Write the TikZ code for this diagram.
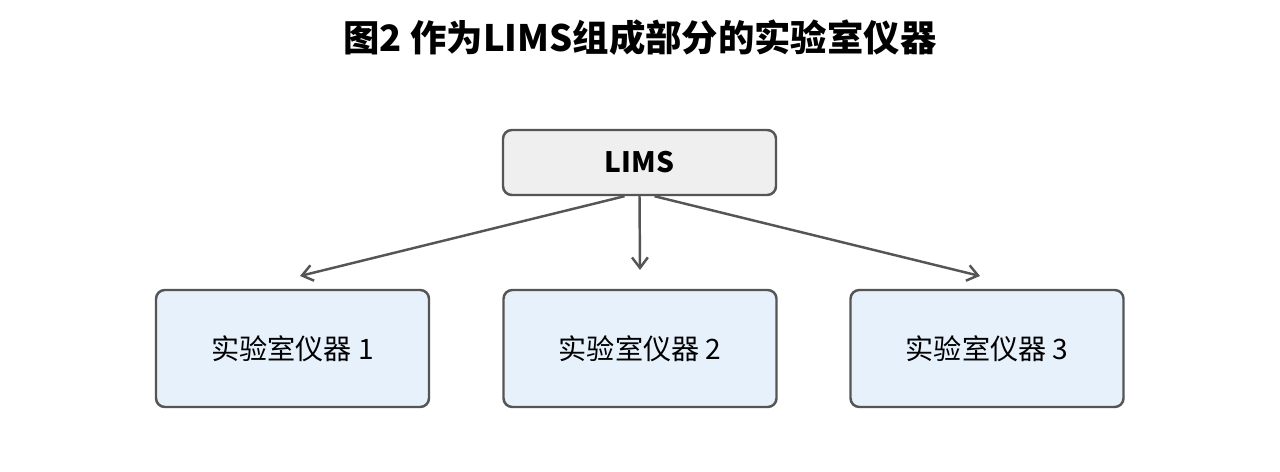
\documentclass[tikz,border=0pt]{standalone}
\usepackage{fontspec}
\setmainfont{Noto Sans CJK SC}
\usetikzlibrary{arrows.meta}
\definecolor{edge}{HTML}{555555}
\definecolor{topfill}{HTML}{EFEFEF}
\definecolor{boxfill}{HTML}{E6F1FC}
\begin{document}
\begin{tikzpicture}[x=0.02cm,y=-0.02cm,
  box/.style={draw=edge,line width=1.4pt,rounded corners=5pt,minimum width=273*0.02cm,inner sep=0pt},
  arr/.style={draw=edge,line width=1.4pt,-{Straight Barb[length=6pt,width=9pt]}}]
\useasboundingbox[fill=white] (0,0) rectangle (1280,472);
\node (title) at (640,38) {\fontsize{20.7pt}{23pt}\selectfont\bfseries 图2 作为LIMS组成部分的实验室仪器};
\node[box,fill=topfill,minimum height=65*0.02cm] (lims) at (639.5,162.5) {\fontsize{16pt}{18pt}\selectfont\bfseries LIMS};
\node[box,fill=boxfill,minimum height=117*0.02cm] (i1) at (292.5,348.5) {\fontsize{16pt}{18pt}\selectfont 实验室仪器 1};
\node[box,fill=boxfill,minimum height=117*0.02cm] (i2) at (640,348.5) {\fontsize{16pt}{18pt}\selectfont 实验室仪器 2};
\node[box,fill=boxfill,minimum height=117*0.02cm] (i3) at (987,348.5) {\fontsize{16pt}{18pt}\selectfont 实验室仪器 3};
\coordinate (e1) at (300,276);
\coordinate (e2) at (640,270);
\coordinate (e3) at (980,276);
\draw[arr] ([xshift=-15*0.02cm]lims.south) -- (e1);
\draw[arr] (lims.south) -- (e2);
\draw[arr] ([xshift=15*0.02cm]lims.south) -- (e3);
\end{tikzpicture}
\end{document}
